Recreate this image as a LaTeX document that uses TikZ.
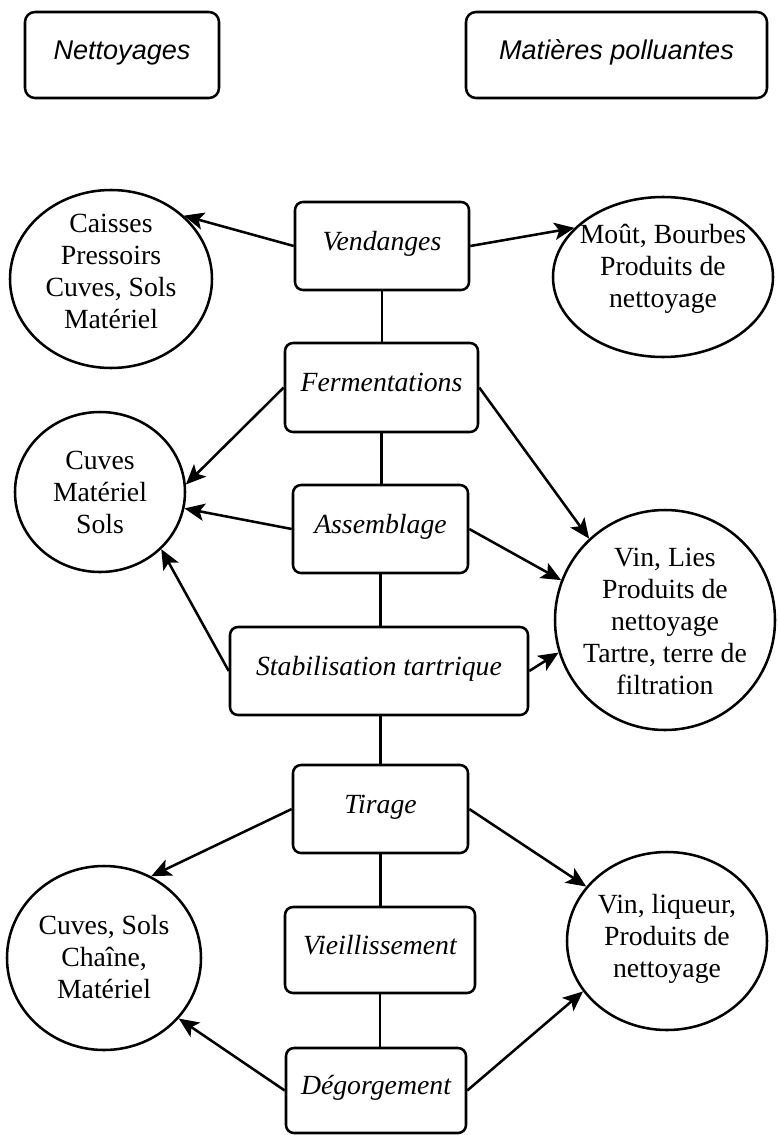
\documentclass[tikz,border=0pt]{standalone}
\usepackage{fontspec}
\setmainfont{Liberation Serif}
\setsansfont{Liberation Sans}
\usetikzlibrary{shapes.geometric,arrows.meta}
\begin{document}
\begin{tikzpicture}[x=0.75pt,y=-0.75pt,
  pbox/.style={draw,line width=1.9pt,rounded corners=6pt,inner sep=0pt,
    font=\fontsize{20.8}{24}\selectfont\itshape,text height=10.5pt,text depth=4.5pt},
  hbox/.style={pbox,rounded corners=7.5pt,font=\fontsize{20.3}{24}\selectfont\sffamily\itshape},
  blob/.style={draw,ellipse,line width=1.9pt,inner sep=0pt},
  btxt/.style={align=center,font=\fontsize{20.8}{24}\selectfont,inner sep=0pt},
  arr/.style={line width=1.9pt,-{Stealth[length=15pt,width=13pt,inset=3.5pt]}},
  link/.style={line width=1.7pt}]
\useasboundingbox (0,0) rectangle (778,1135);

% header boxes
\node[hbox,minimum width=145.5pt,minimum height=64.5pt] (nett) at (122,55) {Nettoyages};
\node[hbox,minimum width=225.75pt,minimum height=64.5pt] (mat) at (616.5,55) {Matières polluantes};

% process steps
\node[pbox,minimum width=130.5pt,minimum height=66pt] (vend) at (382,246) {Vendanges};
\node[pbox,minimum width=144.75pt,minimum height=66.75pt] (ferm) at (381.5,387.5) {Fermentations};
\node[pbox,minimum width=131.25pt,minimum height=66pt] (assem) at (380.5,529) {Assemblage};
\node[pbox,minimum width=223.5pt,minimum height=66pt] (stab) at (379,671) {Stabilisation tartrique};
\node[pbox,minimum width=131.25pt,minimum height=66pt] (tir) at (380.5,809) {Tirage};
\node[pbox,minimum width=142.5pt,minimum height=64.5pt] (vieil) at (380,950) {Vieillissement};
\node[pbox,minimum width=135pt,minimum height=63.75pt] (deg) at (376,1090.5) {Dégorgement};

% ellipses
\node[blob,minimum width=151.5pt,minimum height=133.5pt] (l1) at (111,279) {};
\node[btxt] (l1t) at (111,271) {Caisses\\Pressoirs\\Cuves, Sols\\Matériel};
\node[blob,minimum width=165pt,minimum height=120pt] (r1) at (663,277) {};
\node[btxt] (r1t) at (663,269) {Moût, Bourbes\\Produits de\\nettoyage};
\node[blob,minimum width=127.5pt,minimum height=120pt] (l2) at (100,492) {};
\node[btxt] (l2t) at (100,492) {Cuves\\Matériel\\Sols};
\node[blob,minimum width=165pt,minimum height=165pt] (r2) at (665,620) {};
\node[btxt] (r2t) at (665,621) {Vin, Lies\\Produits de\\nettoyage\\Tartre, terre de\\filtration};
\node[blob,minimum width=145.5pt,minimum height=138pt] (l3) at (104,958) {};
\node[btxt] (l3t) at (104,957) {Cuves, Sols\\Chaîne,\\Matériel};
\node[blob,minimum width=150pt,minimum height=133.5pt] (r3) at (667,941) {};
\node[btxt] (r3t) at (667,939) {Vin, liqueur,\\Produits de\\nettoyage};

% spine
\draw[link] (vend.south) -- (vend.south |- ferm.north);
\draw[link] (ferm.south) -- (ferm.south |- assem.north);
\draw[link] (assem.south) -- (assem.south |- stab.north);
\draw[link] (assem.south |- stab.south) -- (assem.south |- tir.north);
\draw[link] (tir.south) -- (tir.south |- vieil.north);
\draw[link] (vieil.south) -- (vieil.south |- deg.north);

% arrows
\draw[arr] (vend.west) -- (l1.41);
\draw[arr] (vend.east) -- (r1.151);
\draw[arr] (ferm.west) -- (l2.5);
\draw[arr] (assem.west) -- (l2.-11);
\draw[arr] (stab.west) -- (l2.-43);
\draw[arr] (ferm.east) -- (r2.133);
\draw[arr] (assem.east) -- (r2.159);
\draw[arr] (stab.east) -- (r2.-163);
\draw[arr] (tir.west) -- (l3.60);
\draw[arr] (deg.west) -- (l3.-39);
\draw[arr] (tir.east) -- (r3.146);
\draw[arr] (deg.east) -- (r3.-149);
\end{tikzpicture}
\end{document}
